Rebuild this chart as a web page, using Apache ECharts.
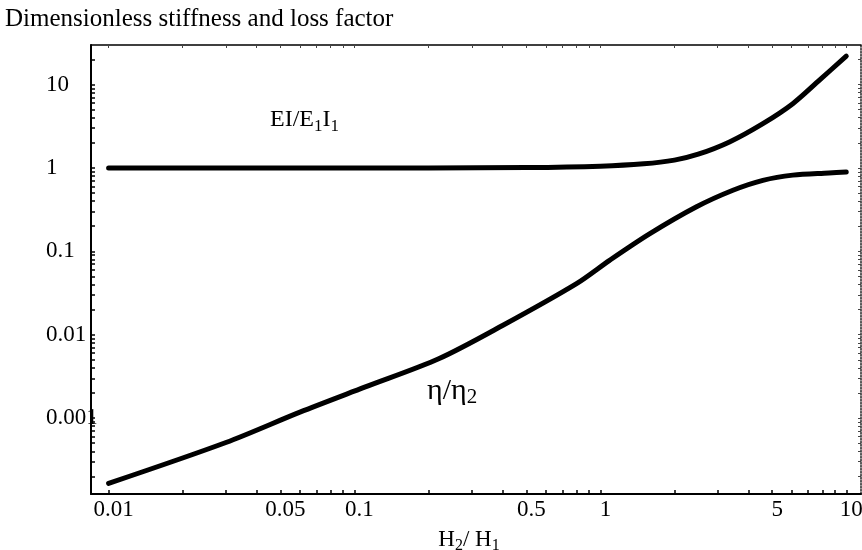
<!DOCTYPE html>
<html>
<head>
<meta charset="utf-8">
<script src="https://cdn.jsdelivr.net/npm/echarts@6/dist/echarts.min.js"></script>
<style>
html, body { margin: 0; padding: 0; background: #fff; }
#chart { width: 862px; height: 550px; }
</style>
</head>
<body>
<div id="chart"></div>
<script>
// tick labels
var xLabels = [0.01, 0.05, 0.1, 0.5, 1, 5, 10];
var yLabels = [0.001, 0.01, 0.1, 1, 10];
var decadesX = [0.01, 0.1, 1];
var decadesY = [0.0001, 0.001, 0.01, 0.1, 1, 10];
var mantissas = [1, 2, 3, 4, 5, 6, 7, 8, 9];

// EI/E1I1 curve
var stiffH = [0.01, 0.05, 0.1, 0.2, 0.5, 1, 1.5, 2, 2.5, 3.35, 4.58, 6.06, 7.78, 10];
var stiffV = [1, 1, 1, 1, 1.01, 1.05, 1.12, 1.24, 1.46, 2.05, 3.4, 5.9, 11.3, 21.9];

// eta/eta2 curve
var lossH = [0.01, 0.03, 0.06, 0.11, 0.22, 0.4, 0.8, 1.09, 1.59, 2.45, 3.46, 4.58, 6.06, 8.5, 10];
var lossV = [0.000165, 0.00051, 0.00118, 0.00235, 0.00515, 0.0129, 0.041, 0.078, 0.163, 0.34, 0.54, 0.71, 0.82, 0.87, 0.895];

var minorX = [];
decadesX.forEach(function (d) {
    mantissas.forEach(function (m) { minorX.push(+(d * m).toPrecision(3)); });
});
minorX.push(10);
var minorY = [];
decadesY.forEach(function (d) {
    mantissas.forEach(function (m) { minorY.push(+(d * m).toPrecision(3)); });
});

function zip(a, b) {
    return a.map(function (v, i) { return [v, b[i]]; });
}

var fontFamily = '"Liberation Serif", "DejaVu Serif", serif';
var fmt = function (v) { return String(+(+v).toPrecision(6)); };

var chart = echarts.init(document.getElementById('chart'));

option = {
    animation: false,
    backgroundColor: '#fff',
    title: {
        text: 'Dimensionless stiffness and loss factor',
        left: 0,
        top: 2,
        textStyle: { fontFamily: fontFamily, fontSize: 25, fontWeight: 'normal', color: '#000' }
    },
    grid: {
        left: 91, top: 45, right: 1, bottom: 56,
        containLabel: false, outerBoundsMode: 'none'
    },
    xAxis: [
        {
            type: 'log', logBase: 10,
            min: 0.00848, max: 11.48,
            position: 'bottom',
            name: '{a|H}{s|2}{a|/ H}{s|1}',
            nameLocation: 'middle',
            nameGap: 32,
            nameTextStyle: {
                padding: [0, 14, 0, 0],
                rich: {
                    a: { fontFamily: fontFamily, fontSize: 23, color: '#000', lineHeight: 28, verticalAlign: 'middle' },
                    s: { fontFamily: fontFamily, fontSize: 16, color: '#000', lineHeight: 16, verticalAlign: 'bottom' }
                }
            },
            axisLine: { show: true, lineStyle: { color: '#000', width: 2 } },
            axisTick: { show: true, inside: true, length: 4, customValues: minorX, lineStyle: { color: '#000', width: 1.5 } },
            axisLabel: {
                customValues: xLabels,
                formatter: fmt,
                margin: 4,
                padding: [0, 0, 0, 10],
                fontFamily: fontFamily, fontSize: 23, color: '#000'
            },
            splitLine: { show: false }
        },
        {
            type: 'log', logBase: 10,
            min: 0.00848, max: 11.48,
            position: 'top',
            axisLine: { show: true, lineStyle: { color: '#000', width: 1.5 } },
            axisTick: { show: true, inside: true, length: 3, customValues: minorX, lineStyle: { color: '#444', width: 1 } },
            axisLabel: { show: false },
            splitLine: { show: false }
        }
    ],
    yAxis: [
        {
            type: 'log', logBase: 10,
            min: 0.000123, max: 29.8,
            position: 'left',
            axisLine: { show: true, lineStyle: { color: '#000', width: 2 } },
            axisTick: { show: true, inside: true, length: 4, customValues: minorY, lineStyle: { color: '#000', width: 1.5 } },
            axisLabel: {
                customValues: yLabels,
                formatter: fmt,
                align: 'left',
                margin: 45,
                padding: [0, 0, 7, 0],
                fontFamily: fontFamily, fontSize: 23, color: '#000'
            },
            splitLine: { show: false }
        },
        {
            type: 'log', logBase: 10,
            min: 0.000123, max: 29.8,
            position: 'right',
            axisLine: { show: true, lineStyle: { color: '#222', width: 1.5, type: 'dotted' } },
            axisTick: { show: true, inside: true, length: 3, customValues: minorY, lineStyle: { color: '#444', width: 1 } },
            axisLabel: { show: false },
            splitLine: { show: false }
        }
    ],
    graphic: [
        {
            type: 'text',
            left: 270, top: 108,
            style: {
                text: '{a|EI/E}{s|1}{a|I}{s|1}',
                rich: {
                    a: { fontFamily: fontFamily, fontSize: 24, fill: '#000', lineHeight: 30, verticalAlign: 'middle' },
                    s: { fontFamily: fontFamily, fontSize: 17, fill: '#000', lineHeight: 17, verticalAlign: 'bottom' }
                }
            }
        },
        {
            type: 'text',
            left: 427, top: 376,
            style: {
                text: '{a|η/η}{s|2}',
                rich: {
                    a: { fontFamily: fontFamily, fontSize: 30, fill: '#000', lineHeight: 34, verticalAlign: 'middle' },
                    s: { fontFamily: fontFamily, fontSize: 21, fill: '#000', lineHeight: 21, verticalAlign: 'bottom' }
                }
            }
        }
    ],
    series: [
        {
            name: 'EI/E1I1',
            type: 'line',
            xAxisIndex: 0, yAxisIndex: 0,
            data: zip(stiffH, stiffV),
            showSymbol: false,
            smooth: 0.3,
            lineStyle: { color: '#000', width: 5, cap: 'round', join: 'round' }
        },
        {
            name: 'eta/eta2',
            type: 'line',
            xAxisIndex: 0, yAxisIndex: 0,
            data: zip(lossH, lossV),
            showSymbol: false,
            smooth: 0.3,
            lineStyle: { color: '#000', width: 5, cap: 'round', join: 'round' }
        }
    ]
};

chart.setOption(option);
</script>
</body>
</html>
